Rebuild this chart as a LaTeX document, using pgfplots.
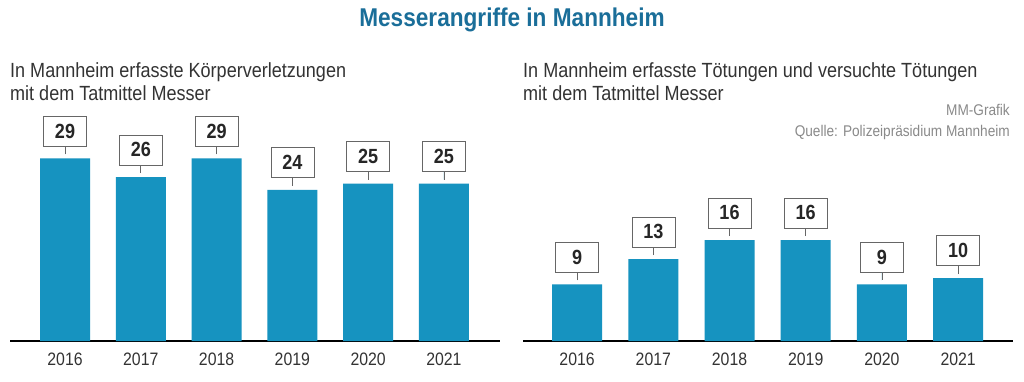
\documentclass[border=0pt]{standalone}
\usepackage{fontspec}
\setmainfont{Liberation Sans}[FakeStretch=0.88]
\usepackage{pgfplots}
\pgfplotsset{compat=1.18}
\definecolor{barc}{HTML}{1693C0}
\definecolor{ttl}{HTML}{1A6E99}
\definecolor{txt}{HTML}{333333}
\definecolor{src}{HTML}{8A8A8A}
\pgfplotsset{mm/.style={
 scale only axis, width=490pt, height=220.5pt, ymin=0, ymax=35,
 axis x line=bottom, axis y line=none,
 x axis line style={-, line width=1.5pt, black},
 xtick={0,...,5}, xticklabels={2016,2017,2018,2019,2020,2021},
 major tick length=0pt,
 xticklabel style={font=\fontsize{18}{20}\selectfont, text=txt, yshift=-8pt},
 ybar, bar width=50pt, clip=false,
 /pgf/number format/assume math mode=true,
 nodes near coords,
 nodes near coords style={draw=gray!80!black, fill=white, line width=0.6pt,
   minimum width=43pt, minimum height=30pt, inner sep=0pt, anchor=south, yshift=12pt,
   font=\fontsize{20.5}{22}\selectfont\bfseries, text=black!85,
   append after command={(\tikzlastnode.south) edge[draw=gray!80!black, line width=0.8pt] ([yshift=-8pt]\tikzlastnode.south)}},
}}
\begin{document}
\begin{tikzpicture}
\useasboundingbox[fill=white] (0,0) rectangle (1024pt,381pt);
\node[font=\fontsize{25.7}{28}\selectfont\bfseries, text=ttl] at (512pt,361pt) {Messerangriffe in Mannheim};
\node[anchor=base west, font=\fontsize{20.5}{22}\selectfont, text=txt, inner sep=0pt] at (10pt,303pt) {In Mannheim erfasste Körperverletzungen};
\node[anchor=base west, font=\fontsize{20.5}{22}\selectfont, text=txt, inner sep=0pt] at (10pt,280pt) {mit dem Tatmittel Messer};
\node[anchor=base west, font=\fontsize{20.5}{22}\selectfont, text=txt, inner sep=0pt] at (523pt,303pt) {In Mannheim erfasste Tötungen und versuchte Tötungen};
\node[anchor=base west, font=\fontsize{20.5}{22}\selectfont, text=txt, inner sep=0pt] at (523pt,280pt) {mit dem Tatmittel Messer};
\node[anchor=base east, font=\fontsize{15.5}{17}\selectfont, text=src, inner sep=0pt] at (1010pt,266pt) {MM-Grafik};
\node[anchor=base east, font=\fontsize{15.5}{17}\selectfont, text=src, inner sep=0pt] at (1010pt,245pt) {Quelle: Polizeipräsidium Mannheim};
\begin{axis}[mm, at={(10pt,40pt)}, anchor=south west, xmin=-0.726, xmax=5.74]
\addplot[fill=barc, draw=none] coordinates {(0,29) (1,26) (2,29) (3,24) (4,25) (5,25)};
\end{axis}
\begin{axis}[mm, at={(523pt,40pt)}, anchor=south west, xmin=-0.71, xmax=5.72]
\addplot[fill=barc, draw=none] coordinates {(0,9) (1,13) (2,16) (3,16) (4,9) (5,10)};
\end{axis}
\end{tikzpicture}
\end{document}
